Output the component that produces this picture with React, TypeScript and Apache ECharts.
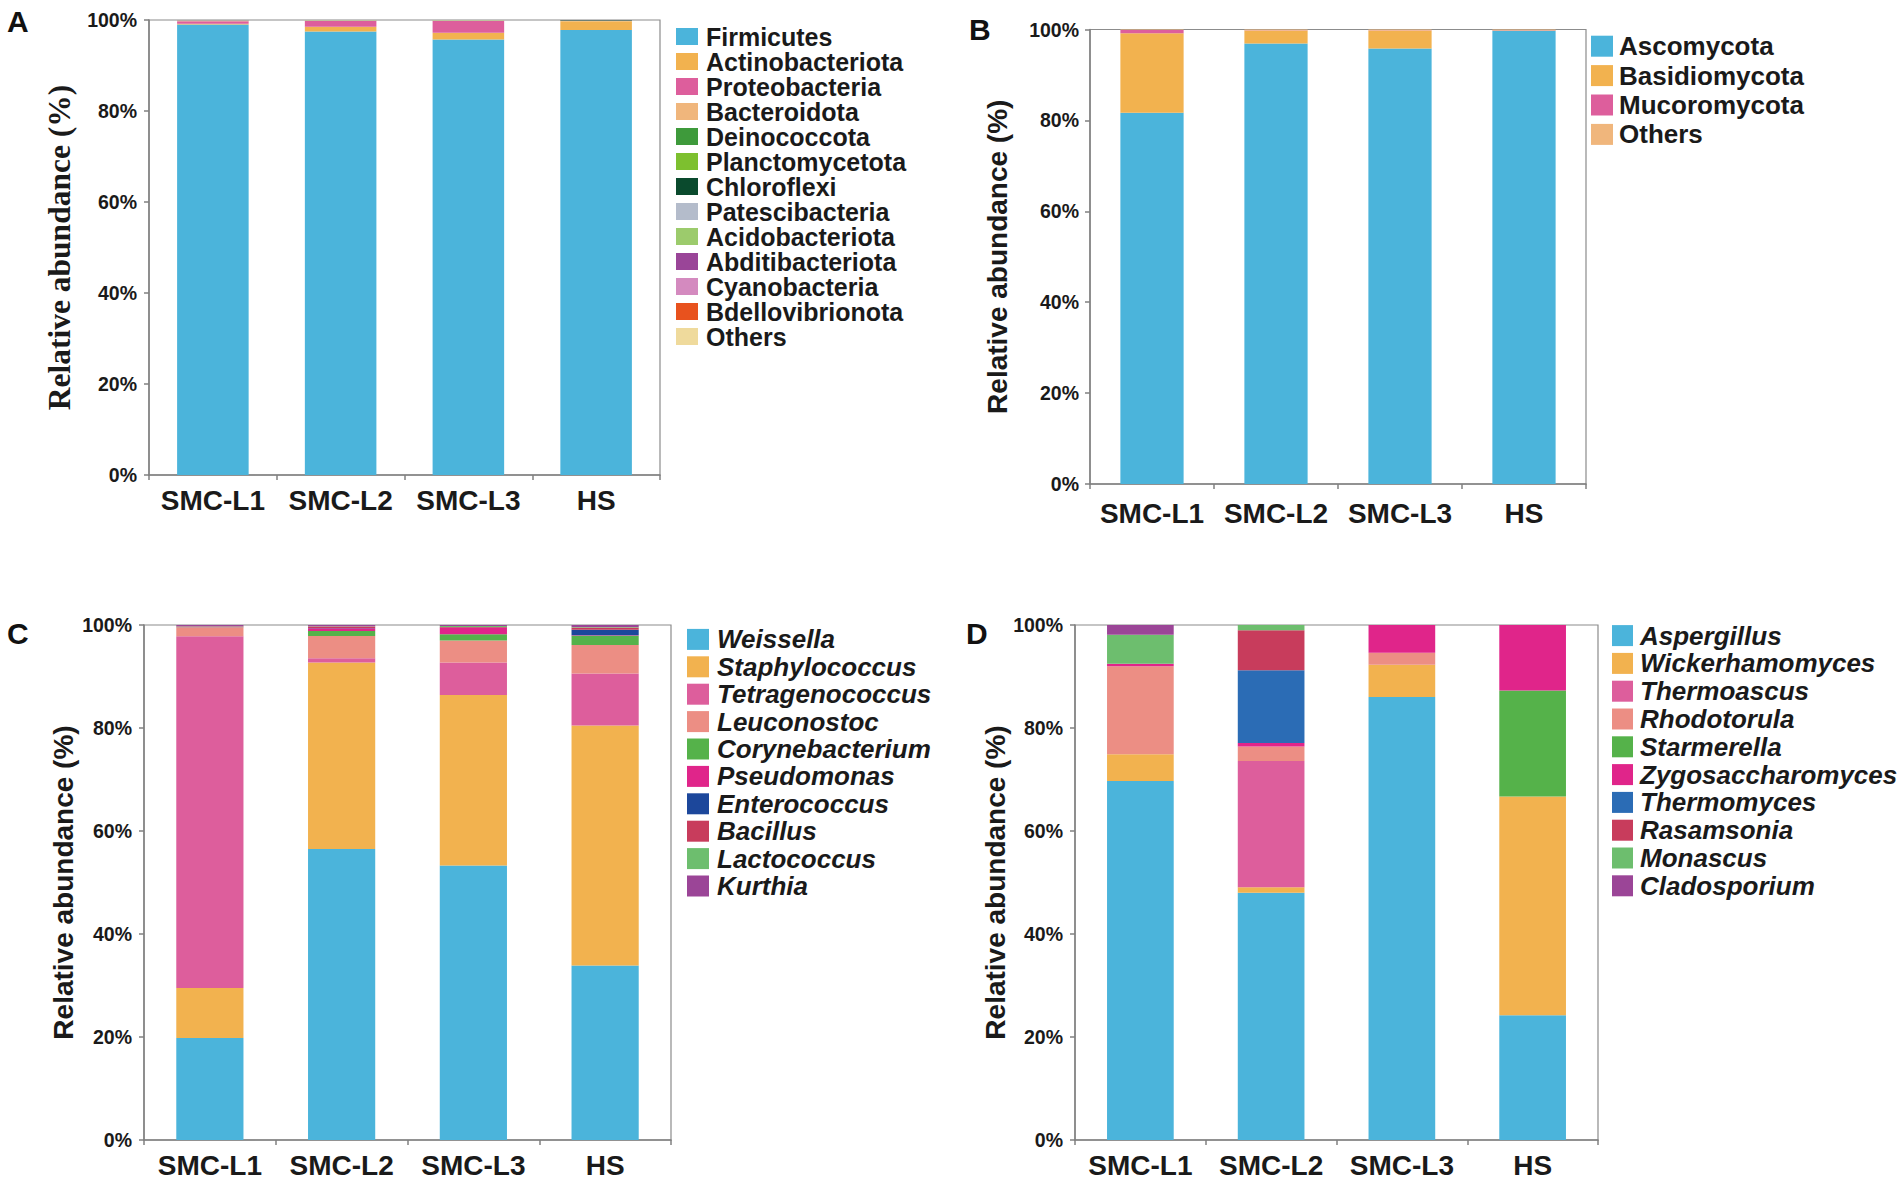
import React, { useEffect, useRef } from 'react';
import * as echarts from 'echarts';

// ---------- shared ----------
const categories = ['SMC-L1', 'SMC-L2', 'SMC-L3', 'HS'];

// ---------- Panel A : bacterial phyla ----------
const namesA = [
  'Firmicutes', 'Actinobacteriota', 'Proteobacteria', 'Bacteroidota', 'Deinococcota',
  'Planctomycetota', 'Chloroflexi', 'Patescibacteria', 'Acidobacteriota',
  'Abditibacteriota', 'Cyanobacteria', 'Bdellovibrionota', 'Others',
];
const firmicutes = [99.0, 97.5, 95.7, 97.8];
const actinobacteriota = [0.2, 1.0, 1.5, 1.9];
const proteobacteria = [0.5, 1.3, 2.6, 0.05];
const bacteroidota = [0.1, 0.05, 0.05, 0.03];
const deinococcota = [0.02, 0.02, 0.02, 0.1];
const planctomycetota = [0.02, 0.02, 0.02, 0.02];
const chloroflexi = [0.02, 0.02, 0.02, 0.05];
const patescibacteria = [0.02, 0.02, 0.02, 0.01];
const acidobacteriota = [0.02, 0.01, 0.01, 0.01];
const abditibacteriota = [0.02, 0.01, 0.01, 0.01];
const cyanobacteria = [0.02, 0.01, 0.01, 0.01];
const bdellovibrionota = [0.02, 0.01, 0.01, 0.005];
const othersA = [0.04, 0.03, 0.03, 0.005];
const valuesA = [
  firmicutes, actinobacteriota, proteobacteria, bacteroidota, deinococcota,
  planctomycetota, chloroflexi, patescibacteria, acidobacteriota,
  abditibacteriota, cyanobacteria, bdellovibrionota, othersA,
];
const colorsA = [
  '#4BB4DB', '#F2B24F', '#DD5E9C', '#F0B67C', '#3E9A3B', '#7DC02F', '#0A4A2D',
  '#B4BCCB', '#9CCB6C', '#9A4598', '#D48ABF', '#E8521E', '#EFDA9C',
];

// ---------- Panel B : fungal phyla ----------
const namesB = ['Ascomycota', 'Basidiomycota', 'Mucoromycota', 'Others'];
const ascomycota = [81.7, 96.9, 95.8, 99.7];
const basidiomycota = [17.5, 2.9, 4.0, 0.15];
const mucoromycota = [0.7, 0.05, 0.05, 0.05];
const othersB = [0.1, 0.15, 0.15, 0.1];
const valuesB = [ascomycota, basidiomycota, mucoromycota, othersB];
const colorsB = ['#4BB4DB', '#F2B24F', '#DD5E9C', '#F0B67C'];

// ---------- Panel C : bacterial genera ----------
const namesC = [
  'Weissella', 'Staphylococcus', 'Tetragenococcus', 'Leuconostoc', 'Corynebacterium',
  'Pseudomonas', 'Enterococcus', 'Bacillus', 'Lactococcus', 'Kurthia',
];
const weissella = [19.8, 56.5, 53.3, 33.9];
const staphylococcus = [9.7, 36.2, 33.1, 46.6];
const tetragenococcus = [68.3, 0.85, 6.3, 10.1];
const leuconostoc = [1.7, 4.3, 4.3, 5.5];
const corynebacterium = [0.05, 1.0, 1.2, 1.8];
const pseudomonas = [0.05, 0.5, 1.2, 0.1];
const enterococcus = [0.02, 0.05, 0.05, 1.1];
const bacillus = [0.08, 0.3, 0.15, 0.4];
const lactococcus = [0.05, 0.05, 0.2, 0.1];
const kurthia = [0.25, 0.25, 0.2, 0.4];
const valuesC = [
  weissella, staphylococcus, tetragenococcus, leuconostoc, corynebacterium,
  pseudomonas, enterococcus, bacillus, lactococcus, kurthia,
];
const colorsC = [
  '#4BB4DB', '#F2B24F', '#DD5E9C', '#EC8E84', '#55B24A',
  '#E0258A', '#1C479B', '#C83C5C', '#6DBE6E', '#9B4597',
];

// ---------- Panel D : fungal genera ----------
const namesD = [
  'Aspergillus', 'Wickerhamomyces', 'Thermoascus', 'Rhodotorula', 'Starmerella',
  'Zygosaccharomyces', 'Thermomyces', 'Rasamsonia', 'Monascus', 'Cladosporium',
];
const aspergillus = [69.7, 48.0, 86.0, 24.2];
const wickerhamomyces = [5.2, 1.1, 6.3, 42.5];
const thermoascus = [0, 24.5, 0, 0];
const rhodotorula = [17.1, 2.8, 2.3, 0];
const starmerella = [0, 0, 0, 20.6];
const zygosaccharomyces = [0.5, 0.7, 5.4, 12.7];
const thermomyces = [0, 14.1, 0, 0];
const rasamsonia = [0, 7.8, 0, 0];
const monascus = [5.6, 1.0, 0, 0];
const cladosporium = [1.9, 0, 0, 0];
const valuesD = [
  aspergillus, wickerhamomyces, thermoascus, rhodotorula, starmerella,
  zygosaccharomyces, thermomyces, rasamsonia, monascus, cladosporium,
];
const colorsD = [
  '#4BB4DB', '#F2B24F', '#DD5E9C', '#EC8E84', '#55B24A',
  '#E0258A', '#2B6CB5', '#C83C5C', '#6DBE6E', '#9B4597',
];

const SANS = "'Liberation Sans', Arial, Helvetica, sans-serif";
const SERIF = "'Liberation Serif', 'Times New Roman', serif";
const TEXT = '#1a1a1a';
const AXIS = '#808080';

type Panel = {
  letter: string;
  letterX: number;
  letterTop: number;
  grid: { left: number; top: number; width: number; height: number };
  names: string[];
  values: number[][];
  colors: string[];
  barWidth: string;
  nameGap: number;
  nameFont: string;
  nameSize: number;
  xLabelMargin: number;
  yLabelMargin: number;
  legend: {
    left: number; top: number; size: number; lineHeight: number;
    itemHeight: number; itemWidth: number; pad: number; italic: boolean;
  };
};

const panels: Panel[] = [
  {
    letter: 'A', letterX: 7, letterTop: 6,
    grid: { left: 149, top: 20, width: 511, height: 455 },
    names: namesA, values: valuesA, colors: colorsA, barWidth: '56%',
    nameGap: 74, nameFont: SERIF, nameSize: 31.5, xLabelMargin: 11, yLabelMargin: 12,
    legend: { left: 676, top: 24, size: 25, lineHeight: 24.8, itemHeight: 17, itemWidth: 22, pad: 3, italic: false },
  },
  {
    letter: 'B', letterX: 969, letterTop: 14.5,
    grid: { left: 1090, top: 29.5, width: 496, height: 454.5 },
    names: namesB, values: valuesB, colors: colorsB, barWidth: '51%',
    nameGap: 79, nameFont: SANS, nameSize: 28, xLabelMargin: 15, yLabelMargin: 11,
    legend: { left: 1591, top: 31.5, size: 26, lineHeight: 29.4, itemHeight: 21, itemWidth: 22, pad: 1, italic: false },
  },
  {
    letter: 'C', letterX: 7, letterTop: 618,
    grid: { left: 144, top: 625, width: 527, height: 515 },
    names: namesC, values: valuesC, colors: colorsC, barWidth: '51%',
    nameGap: 67, nameFont: SANS, nameSize: 28, xLabelMargin: 11, yLabelMargin: 12,
    legend: { left: 687, top: 625.7, size: 26, lineHeight: 27.4, itemHeight: 21, itemWidth: 22, pad: 3, italic: true },
  },
  {
    letter: 'D', letterX: 966, letterTop: 618,
    grid: { left: 1075, top: 625, width: 523, height: 515 },
    names: namesD, values: valuesD, colors: colorsD, barWidth: '51%',
    nameGap: 62, nameFont: SANS, nameSize: 28, xLabelMargin: 11, yLabelMargin: 12,
    legend: { left: 1612, top: 621.7, size: 26, lineHeight: 27.8, itemHeight: 21, itemWidth: 21, pad: 2, italic: true },
  },
];

function buildOption() {
  const grid: any[] = [];
  const xAxis: any[] = [];
  const yAxis: any[] = [];
  const series: any[] = [];
  const legend: any[] = [];
  const graphic: any[] = [];

  panels.forEach((p, i) => {
    grid.push({
      ...p.grid,
      show: true,
      borderColor: '#8c8c8c',
      borderWidth: 1.2,
      backgroundColor: 'transparent',
    });
    xAxis.push({
      gridIndex: i,
      type: 'category',
      data: categories,
      boundaryGap: true,
      axisLine: { show: true, lineStyle: { color: AXIS, width: 1.5 } },
      axisTick: { show: true, length: 5, interval: 0, alignWithLabel: false, lineStyle: { color: AXIS, width: 1.5 } },
      axisLabel: {
        interval: 0, margin: p.xLabelMargin, color: TEXT,
        fontFamily: SANS, fontWeight: 'bold', fontSize: 28,
      },
      splitLine: { show: false },
    });
    yAxis.push({
      gridIndex: i,
      type: 'value',
      min: 0,
      max: 100,
      interval: 20,
      axisLine: { show: true, lineStyle: { color: AXIS, width: 1.5 } },
      axisTick: { show: true, length: 5, lineStyle: { color: AXIS, width: 1.5 } },
      axisLabel: {
        formatter: '{value}%', margin: p.yLabelMargin, color: TEXT,
        fontFamily: SANS, fontWeight: 'bold', fontSize: 19.5,
      },
      splitLine: { show: false },
      name: 'Relative abundance (%)',
      nameLocation: 'middle',
      nameGap: p.nameGap,
      nameTextStyle: {
        fontFamily: p.nameFont, fontWeight: 'bold', fontSize: p.nameSize, color: TEXT,
      },
    });
    p.names.forEach((name, k) => {
      series.push({
        name,
        type: 'bar',
        stack: 'panel' + i,
        xAxisIndex: i,
        yAxisIndex: i,
        barWidth: p.barWidth,
        data: p.values[k],
        itemStyle: { color: p.colors[k] },
        emphasis: { disabled: true },
      });
    });
    legend.push({
      orient: 'vertical',
      left: p.legend.left,
      top: p.legend.top,
      itemGap: 0,
      itemWidth: p.legend.itemWidth,
      itemHeight: p.legend.itemHeight,
      icon: 'rect',
      selectedMode: false,
      padding: 0,
      data: p.names.map((name, k) => ({ name, icon: 'rect', itemStyle: { color: p.colors[k], borderWidth: 0 } })),
      textStyle: {
        fontFamily: SANS,
        fontWeight: 'bold',
        fontStyle: p.legend.italic ? 'italic' : 'normal',
        fontSize: p.legend.size,
        lineHeight: p.legend.lineHeight,
        color: TEXT,
        padding: [0, 0, 0, p.legend.pad],
      },
    });
    graphic.push({
      type: 'text',
      left: p.letterX,
      top: p.letterTop,
      style: {
        text: p.letter,
        fontFamily: SANS,
        fontWeight: 'bold',
        fontSize: 30,
        fill: '#111',
      },
    });
  });

  return {
    animation: false,
    backgroundColor: '#ffffff',
    grid,
    xAxis,
    yAxis,
    series,
    legend,
    graphic,
    tooltip: { show: false },
  };
}

export default function App() {
  const ref = useRef<HTMLDivElement>(null);
  useEffect(() => {
    document.body.style.margin = '0';
    if (!ref.current) return;
    const chart = echarts.init(ref.current, undefined, { renderer: 'svg' });
    chart.setOption(buildOption() as any);
    return () => chart.dispose();
  }, []);
  return <div ref={ref} style={{ width: 1901, height: 1182 }} />;
}
